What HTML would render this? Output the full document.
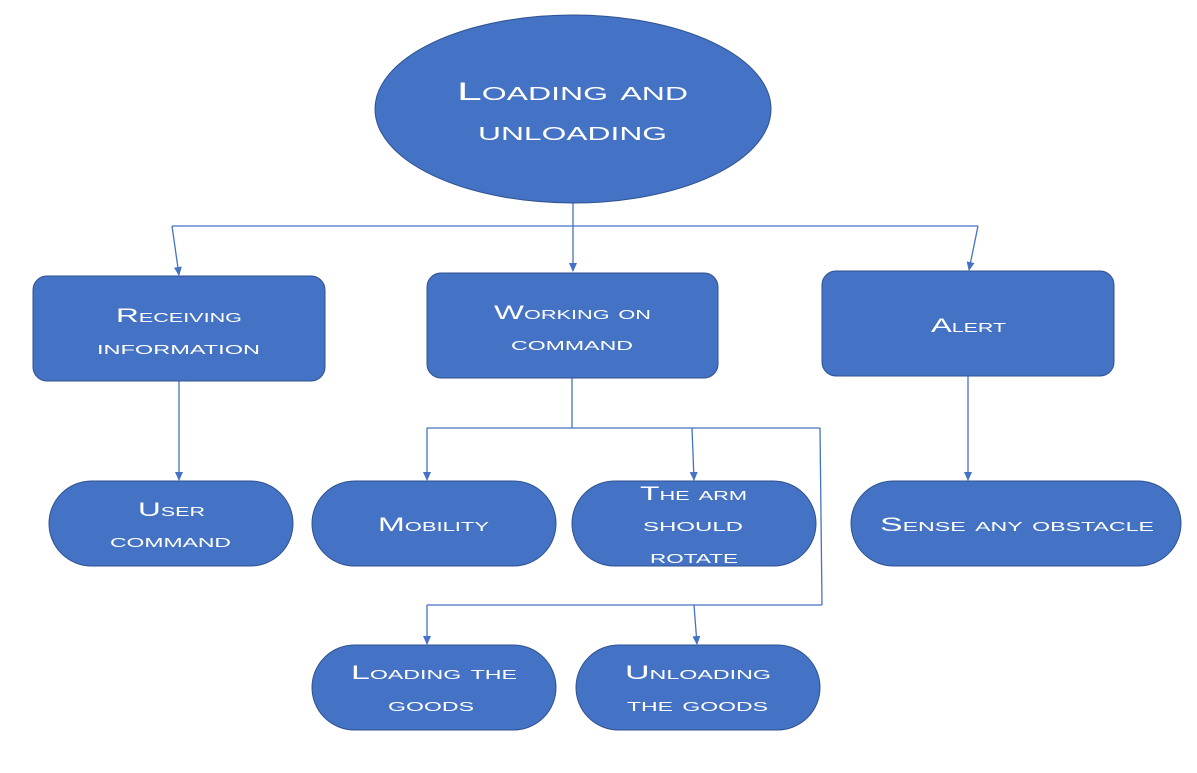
<!DOCTYPE html>
<html><head><meta charset="utf-8"><style>
html,body{margin:0;padding:0;background:#fff;}
svg{display:block}
text{font-family:"Liberation Sans",sans-serif;font-variant:small-caps;fill:#fff;text-anchor:start;}
</style></head><body>
<svg width="1197" height="773" viewBox="0 0 1197 773" xmlns="http://www.w3.org/2000/svg">
<defs><marker id="a" markerWidth="10" markerHeight="10" refX="8" refY="4" orient="auto" markerUnits="userSpaceOnUse"><path d="M0,0 L9,4 L0,8 Z" fill="#4472C4"/></marker></defs>
<g stroke="#4472C4" stroke-width="1.3" fill="none">
<line x1="573" y1="203" x2="573" y2="271" marker-end="url(#a)"/>
<line x1="172" y1="226" x2="978" y2="226"/>
<line x1="172" y1="226" x2="179" y2="275" marker-end="url(#a)"/>
<line x1="978" y1="226" x2="969" y2="270" marker-end="url(#a)"/>
<line x1="179" y1="381" x2="179" y2="480" marker-end="url(#a)"/>
<line x1="572" y1="378" x2="572" y2="428"/>
<line x1="427" y1="428" x2="820" y2="428"/>
<line x1="427" y1="428" x2="427" y2="480" marker-end="url(#a)"/>
<line x1="692" y1="428" x2="694" y2="480" marker-end="url(#a)"/>
<line x1="820" y1="428" x2="822" y2="605"/>
<line x1="822" y1="605" x2="427" y2="605"/>
<line x1="427" y1="605" x2="427" y2="644" marker-end="url(#a)"/>
<line x1="694" y1="605" x2="697" y2="644" marker-end="url(#a)"/>
<line x1="968" y1="376" x2="968" y2="480" marker-end="url(#a)"/>
</g>
<g fill="#4472C4" stroke="#2F528F" stroke-width="1">
<ellipse cx="573" cy="109" rx="198" ry="94"/>
<rect x="33" y="276" width="292" height="105" rx="14"/>
<rect x="427" y="273" width="291" height="105" rx="14"/>
<rect x="822" y="271" width="292" height="105" rx="14"/>
<rect x="49" y="481" width="244" height="85" rx="42.5"/>
<rect x="312" y="481" width="244" height="85" rx="42.5"/>
<rect x="572" y="481" width="244" height="85" rx="42.5"/>
<rect x="851" y="481" width="330" height="85" rx="42.5"/>
<rect x="312" y="645" width="244" height="85" rx="42.5"/>
<rect x="576" y="645" width="244" height="85" rx="42.5"/>
</g>
<g font-size="25">
<text x="457" y="100" textLength="231" lengthAdjust="spacingAndGlyphs">Loading and</text>
<text x="478" y="140" textLength="189" lengthAdjust="spacingAndGlyphs">unloading</text>
</g>
<g font-size="19">
<text x="116" y="322" textLength="126" lengthAdjust="spacingAndGlyphs">Receiving</text>
<text x="97" y="354" textLength="163" lengthAdjust="spacingAndGlyphs">information</text>
<text x="494" y="319" textLength="157" lengthAdjust="spacingAndGlyphs">Working on</text>
<text x="511" y="350" textLength="122" lengthAdjust="spacingAndGlyphs">command</text>
<text x="931" y="332" textLength="75" lengthAdjust="spacingAndGlyphs">Alert</text>
<text x="138" y="516" textLength="67" lengthAdjust="spacingAndGlyphs">User</text>
<text x="110" y="547" textLength="121" lengthAdjust="spacingAndGlyphs">command</text>
<text x="378" y="531" textLength="111" lengthAdjust="spacingAndGlyphs">Mobility</text>
<text x="640" y="500" textLength="107" lengthAdjust="spacingAndGlyphs">The arm</text>
<text x="643" y="531" textLength="100" lengthAdjust="spacingAndGlyphs">should</text>
<text x="650" y="563" textLength="88" lengthAdjust="spacingAndGlyphs">rotate</text>
<text x="880" y="531" textLength="274" lengthAdjust="spacingAndGlyphs">Sense any obstacle</text>
<text x="351" y="679" textLength="166" lengthAdjust="spacingAndGlyphs">Loading the</text>
<text x="388" y="711" textLength="86" lengthAdjust="spacingAndGlyphs">goods</text>
<text x="625" y="679" textLength="146" lengthAdjust="spacingAndGlyphs">Unloading</text>
<text x="627" y="711" textLength="141" lengthAdjust="spacingAndGlyphs">the goods</text>
</g>
</svg>
</body></html>
